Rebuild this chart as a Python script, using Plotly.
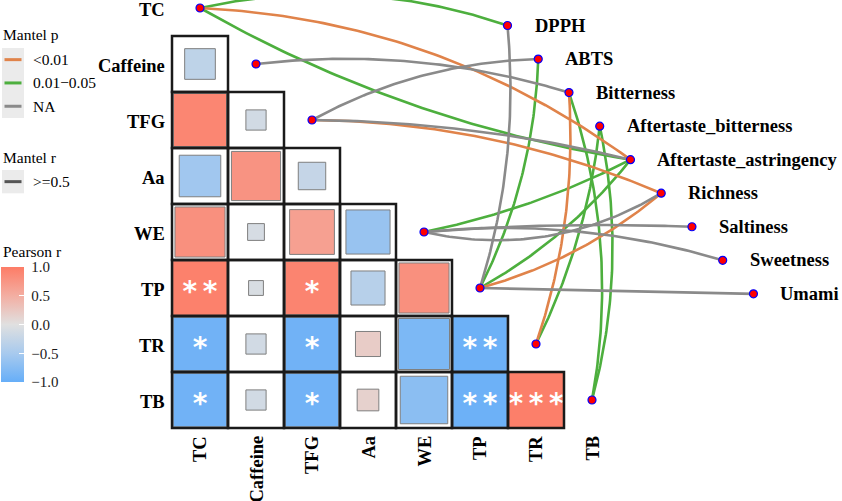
import numpy as np
import plotly.graph_objects as go

# ---------------- data ----------------
env_vars = ["TC", "Caffeine", "TFG", "Aa", "WE", "TP", "TR", "TB"]
spec_vars = ["DPPH", "ABTS", "Bitterness", "Aftertaste_bitterness",
             "Aftertaste_astringency", "Richness", "Saltiness", "Sweetness", "Umami"]

# Pearson r, lower triangle: row variable vs. columns TC, Caffeine, ...
corr_rows = ["Caffeine", "TFG", "Aa", "WE", "TP", "TR", "TB"]
corr_values = [
    [-0.30],
    [0.90, -0.13],
    [-0.55, 0.77, -0.24],
    [0.80, -0.09, 0.64, -0.62],
    [0.95, -0.07, 0.92, -0.37, 0.80],
    [-0.92, -0.13, -0.92, 0.20, -0.83, -0.95],
    [-0.92, -0.13, -0.92, 0.15, -0.72, -0.95, 0.97],
]
corr_sig = [
    [""],
    ["", ""],
    ["", "", ""],
    ["", "", "", ""],
    ["**", "", "*", "", ""],
    ["*", "", "*", "", "", "**"],
    ["*", "", "*", "", "", "**", "***"],
]

# Mantel test links (env -> spec)
mantel_env = ["TC", "TC", "TC", "Caffeine", "TFG", "TFG", "TFG", "WE", "WE", "WE",
              "WE", "TP", "TP", "TP", "TP", "TP", "TR", "TR", "TB", "TB"]
mantel_spec = ["DPPH", "Aftertaste_astringency", "Aftertaste_astringency", "Bitterness",
               "ABTS", "Aftertaste_astringency", "Richness", "Aftertaste_astringency",
               "Richness", "Saltiness", "Sweetness", "DPPH", "ABTS",
               "Aftertaste_astringency", "Richness", "Umami", "Bitterness",
               "Aftertaste_bitterness", "Bitterness", "Aftertaste_bitterness"]
mantel_p = ["0.01-0.05", "<0.01", "0.01-0.05", "NA", "NA", "NA", "<0.01", "0.01-0.05",
            "NA", "NA", "NA", "NA", "0.01-0.05", "0.01-0.05", "<0.01", "NA", "<0.01",
            "0.01-0.05", "0.01-0.05", "0.01-0.05"]
mantel_r = [">=0.5"] * 20

p_levels = ["<0.01", "0.01-0.05", "NA"]
p_labels = ["<0.01", "0.01\u22120.05", "NA"]
r_levels = [">=0.5"]
cbar_ticks = [-1.0, -0.5, 0.0, 0.5, 1.0]

# ---------------- style / layout constants ----------------
W, H = 842, 501
CELL = 56.0                       # px per grid unit
ORIGIN_X, ORIGIN_Y = 200.0, 8.0   # pixel centre of grid unit (0, 0)
SPEC_START = (5.491, 0.3125)
SPEC_STEP = (0.549, 0.599)
link_curv = [-0.14, -0.15, 0.09, -0.105, -0.12, -0.058, -0.10, 0.07, 0.20, -0.03,
             -0.10, 0.10, 0.11, 0.10, 0.11, 0.0, 0.10, 0.09, 0.13, 0.12]
FONT = "Liberation Serif"
p_colors = {"<0.01": "#E0834A", "0.01-0.05": "#4DAF3E", "NA": "#8A8A8A"}
r_color = "#555555"
colorscale = [[0.0, "#66AEF8"], [0.25, "#A8CAEE"], [0.5, "#E0E0E0"],
              [0.75, "#F3AEA2"], [1.0, "#FD7C66"]]
SIG_DY = 0.10

fig = go.Figure()

# ---------------- correlation squares ----------------
cx, cy, cr, csz = [], [], [], []
sx, sy, stext = [], [], []
for ri, row in enumerate(corr_rows):
    i = env_vars.index(row)
    for j, r in enumerate(corr_values[ri]):
        cx.append(j)
        cy.append(i)
        cr.append(r)
        csz.append(CELL * np.sqrt(abs(r)))
        if corr_sig[ri][j]:
            sx.append(j)
            sy.append(i + SIG_DY)
            stext.append("\u2009".join(list(corr_sig[ri][j])))

fig.add_trace(go.Scatter(
    x=cx, y=cy, mode="markers", hoverinfo="skip", showlegend=False,
    marker=dict(symbol="square", size=csz, color=cr, colorscale=colorscale,
                cmin=-1, cmax=1, opacity=1, line=dict(color="#7F7F7F", width=1),
                showscale=True,
                colorbar=dict(x=1 / W, xanchor="left", y=1 - 267 / H, yanchor="top",
                              len=115, lenmode="pixels", thickness=23,
                              thicknessmode="pixels", xpad=0, ypad=0,
                              outlinewidth=0, tickmode="array", tickvals=cbar_ticks,
                              ticktext=["\u00a0" + f"{v:.1f}".replace("-", "\u2212")
                                        for v in cbar_ticks],
                              ticks="inside", ticklen=5, tickcolor="white",
                              tickfont=dict(family=FONT, size=15, color="#1a1a1a"))),
))
fig.add_trace(go.Scatter(
    x=sx, y=sy, mode="text", text=stext, hoverinfo="skip", showlegend=False,
    textfont=dict(family="DejaVu Sans", size=28, color="white", weight="bold"),
))

# grid outlines
for ri, row in enumerate(corr_rows):
    i = env_vars.index(row)
    for j in range(len(corr_values[ri])):
        fig.add_shape(type="rect", x0=j - 0.5, x1=j + 0.5, y0=i - 0.5, y1=i + 0.5,
                      line=dict(color="#1A1A1A", width=2.5), layer="above")

# ---------------- Mantel links ----------------
def node_env(name):
    k = env_vars.index(name)
    return np.array([k, k], dtype=float)

def node_spec(name):
    k = spec_vars.index(name)
    return np.array([SPEC_START[0] + k * SPEC_STEP[0], SPEC_START[1] + k * SPEC_STEP[1]])

def curve(p0, p1, k, n=80):
    d = p1 - p0
    ctrl = (p0 + p1) / 2 + k * np.array([-d[1], d[0]])
    t = np.linspace(0, 1, n)[:, None]
    pts = (1 - t) ** 2 * p0 + 2 * t * (1 - t) * ctrl + t ** 2 * p1
    return pts[:, 0], pts[:, 1]

for lev in ["0.01-0.05", "<0.01", "NA"]:
    xs, ys = [], []
    for e, s, p, k in zip(mantel_env, mantel_spec, mantel_p, link_curv):
        if p != lev:
            continue
        x, y = curve(node_env(e), node_spec(s), k)
        xs += list(x) + [None]
        ys += list(y) + [None]
    fig.add_trace(go.Scatter(x=xs, y=ys, mode="lines", hoverinfo="skip",
                             showlegend=False,
                             line=dict(color=p_colors[lev], width=2.6)))

used_env = [v for v in env_vars if v in mantel_env]
nx = [node_env(v)[0] for v in used_env] + [node_spec(s)[0] for s in spec_vars]
ny = [node_env(v)[1] for v in used_env] + [node_spec(s)[1] for s in spec_vars]
fig.add_trace(go.Scatter(x=nx, y=ny, mode="markers", hoverinfo="skip", showlegend=False,
                         marker=dict(size=8, color="red", line=dict(color="blue", width=1.2))))

# ---------------- labels ----------------
ann = []
for i, v in enumerate(env_vars):
    if v in corr_rows or i == 0:
        ann.append(dict(x=-0.5, y=i, xref="x", yref="y", text=v, showarrow=False,
                        xanchor="right", yanchor="middle", xshift=-5, yshift=-2,
                        font=dict(family=FONT, size=18.5, color="black", weight="bold")))
for j, v in enumerate(env_vars):
    ann.append(dict(x=j, y=len(env_vars) - 0.5, xref="x", yref="y", text=v,
                    showarrow=False, textangle=-90, xanchor="center", yanchor="top",
                    yshift=-6,
                    font=dict(family=FONT, size=18.5, color="black", weight="bold")))
for s in spec_vars:
    p = node_spec(s)
    ann.append(dict(x=p[0], y=p[1], xref="x", yref="y", text=s, showarrow=False,
                    xanchor="left", yanchor="middle", xshift=25,
                    font=dict(family=FONT, size=18.5, color="black", weight="bold")))

# ---------------- manual legends (Mantel p / Mantel r) ----------------
def fx(px):
    return px / W

def fy(py):
    return 1 - py / H

def legend_block(title, title_y, labels, colors, top):
    ann.append(dict(x=fx(1), y=fy(title_y), xref="paper", yref="paper", text=title,
                    showarrow=False, xanchor="left", yanchor="middle",
                    font=dict(family=FONT, size=15.5, color="black")))
    kh = 23.3
    fig.add_shape(type="rect", xref="paper", yref="paper", x0=fx(2), x1=fx(24),
                  y0=fy(top), y1=fy(top + kh * len(labels)),
                  fillcolor="#EBEBEB", line=dict(width=0), layer="below")
    for n, (lab, col) in enumerate(zip(labels, colors)):
        yc = top + kh * (n + 0.5)
        fig.add_shape(type="line", xref="paper", yref="paper", x0=fx(4.5), x1=fx(21.5),
                      y0=fy(yc), y1=fy(yc), line=dict(color=col, width=3))
        ann.append(dict(x=fx(31), y=fy(yc), xref="paper", yref="paper", text=lab,
                        showarrow=False, xanchor="left", yanchor="middle",
                        font=dict(family=FONT, size=15.5, color="black")))

legend_block("Mantel p", 34, p_labels, [p_colors[l] for l in p_levels], 48)
legend_block("Mantel r", 157, r_levels, [r_color], 170)
ann.append(dict(x=fx(1), y=fy(252), xref="paper", yref="paper", text="Pearson r",
                showarrow=False, xanchor="left", yanchor="middle",
                font=dict(family=FONT, size=15.5, color="black")))

fig.update_layout(
    width=W, height=H, margin=dict(l=0, r=0, t=0, b=0),
    paper_bgcolor="white", plot_bgcolor="white", showlegend=False,
    xaxis=dict(range=[-ORIGIN_X / CELL, (W - ORIGIN_X) / CELL], visible=False,
               fixedrange=True),
    yaxis=dict(range=[(H - ORIGIN_Y) / CELL, -ORIGIN_Y / CELL], visible=False,
               fixedrange=True),
    annotations=ann,
)

fig.write_html("out.html", config={"displayModeBar": False},
               post_script="document.body.style.margin='0px';"
                           "document.body.style.overflow='hidden';")
